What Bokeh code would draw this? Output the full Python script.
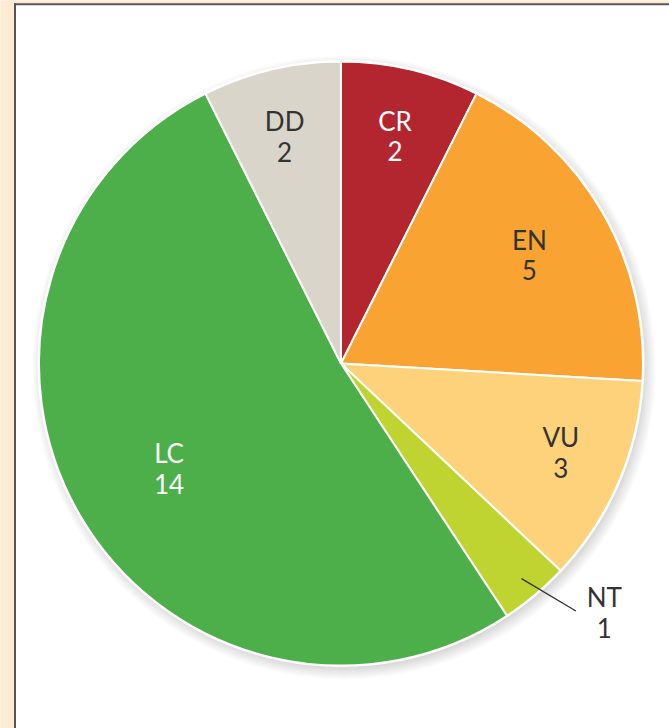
import numpy as np
from bokeh.plotting import figure
from bokeh.models import Range1d, ColumnDataSource, GlobalInlineStyleSheet
from bokeh.core.properties import value
from bokeh.embed import file_html
from bokeh.resources import INLINE

# ---- data ----
categories = ["CR", "EN", "VU", "NT", "LC", "DD"]
counts = [2, 5, 3, 1, 14, 2]
colors = ["#b3262f", "#f9a332", "#fdd27b", "#c0d431", "#4caf4a", "#d9d5ca"]
text_colors = ["#ffffff", "#333333", "#333333", "#333333", "#ffffff", "#333333"]

# ---- label placement style (fraction of radius, angle shift in degrees) ----
label_r = [0.775, 0.72, 0.785, 1.2, 0.667, 0.775]
label_shift = [0.0, 0.0, -1.3, -6.6, -1.4, -0.6]

W, H = 669, 728
p = figure(width=W, height=H, output_backend="svg", toolbar_location=None,
           x_range=Range1d(0, W), y_range=Range1d(0, H),
           min_border=0, outline_line_color=None,
           background_fill_color="#ffffff", border_fill_color="#fdebd3")
p.axis.visible = False
p.grid.visible = False
p.stylesheets = [GlobalInlineStyleSheet(css="body{background:#fdebd3;}")]

# page frame: beige strips, dark border line
p.quad(left=0, right=13.5, bottom=0, top=H, fill_color="#fdebd3", line_color=None)
p.quad(left=0, right=W, bottom=H - 2.7, top=H, fill_color="#fdebd3", line_color=None)
p.segment(x0=14.5, y0=0, x1=14.5, y1=H - 2.7, line_color="#555555", line_width=2)
p.segment(x0=13.5, y0=H - 3.7, x1=W, y1=H - 3.7, line_color="#555555", line_width=2)

cx, cy, R = 340.5, H - 363, 302

# soft drop shadow
for k in range(16):
    p.circle(x=cx + 3, y=cy - 4, radius=R - 5 + k, fill_color="#000000",
             fill_alpha=0.011, line_color=None)

# white rim
p.circle(x=cx, y=cy, radius=R + 1.5, fill_color="#ffffff", line_color=None)

vals = np.array(counts, dtype=float)
total = vals.sum()
cum = np.concatenate([[0], np.cumsum(vals)])
start = np.pi / 2 - 2 * np.pi * cum[:-1] / total
end = np.pi / 2 - 2 * np.pi * cum[1:] / total
mid_deg = (cum[:-1] + vals / 2) / total * 360.0  # clockwise from top

src = ColumnDataSource(dict(cat=categories, val=counts, start=start, end=end, color=colors))
p.wedge(x=cx, y=cy, radius=R, start_angle="start", end_angle="end", direction="clock",
        fill_color="color", line_color="#ffffff", line_width=2, source=src)

# labels
lab_ang = np.radians(mid_deg + np.array(label_shift))
lx = cx + R * np.array(label_r) * np.sin(lab_ang)
ly = cy + R * np.array(label_r) * np.cos(lab_ang)
texts = [f"{c}\n{v}" for c, v in zip(categories, counts)]
lsrc = ColumnDataSource(dict(x=lx, y=ly, t=texts, c=text_colors))
p.text(x="x", y="y", text="t", text_color="c", source=lsrc,
       text_font=value("Lato"), text_font_size="26px",
       text_align="center", text_baseline="middle", text_line_height=0.95)

# leader line for NT
i = categories.index("NT")
a0 = np.radians(mid_deg[i])
a1 = np.radians(mid_deg[i] - 3.5)
p.segment(x0=cx + 0.93 * R * np.sin(a0), y0=cy + 0.93 * R * np.cos(a0),
          x1=cx + 1.13 * R * np.sin(a1), y1=cy + 1.13 * R * np.cos(a1),
          line_color="#333333", line_width=1.3)

open("out.html", "w").write(file_html(p, INLINE))
